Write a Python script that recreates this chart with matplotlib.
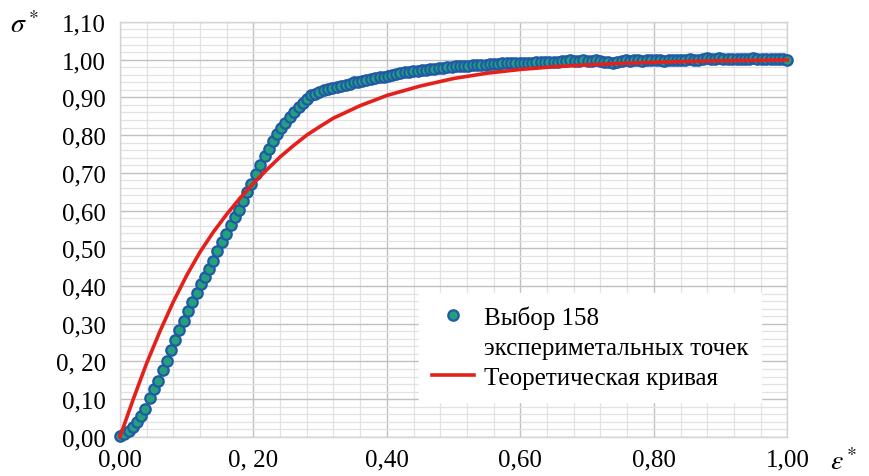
import numpy as np
import matplotlib.pyplot as plt
from matplotlib.lines import Line2D
from matplotlib.ticker import MultipleLocator

eps_exp = [
    0.000, 0.006, 0.013, 0.019, 0.025, 0.032, 0.038, 0.045, 0.051, 0.057,
    0.064, 0.070, 0.076, 0.083, 0.089, 0.096, 0.102, 0.108, 0.115, 0.121,
    0.127, 0.134, 0.140, 0.146, 0.153, 0.159, 0.166, 0.172, 0.178, 0.185,
    0.191, 0.197, 0.204, 0.210, 0.217, 0.223, 0.229, 0.236, 0.242, 0.248,
    0.255, 0.261, 0.268, 0.274, 0.280, 0.287, 0.293, 0.299, 0.306, 0.312,
    0.318, 0.325, 0.331, 0.338, 0.344, 0.350, 0.357, 0.363, 0.369, 0.376,
    0.382, 0.389, 0.395, 0.401, 0.408, 0.414, 0.420, 0.427, 0.433, 0.439,
    0.446, 0.452, 0.459, 0.465, 0.471, 0.478, 0.484, 0.490, 0.497, 0.503,
    0.510, 0.516, 0.522, 0.529, 0.535, 0.541, 0.548, 0.554, 0.561, 0.567,
    0.573, 0.580, 0.586, 0.592, 0.599, 0.605, 0.611, 0.618, 0.624, 0.631,
    0.637, 0.643, 0.650, 0.656, 0.662, 0.669, 0.675, 0.682, 0.688, 0.694,
    0.701, 0.707, 0.713, 0.720, 0.726, 0.732, 0.739, 0.745, 0.752, 0.758,
    0.764, 0.771, 0.777, 0.783, 0.790, 0.796, 0.803, 0.809, 0.815, 0.822,
    0.828, 0.834, 0.841, 0.847, 0.854, 0.860, 0.866, 0.873, 0.879, 0.885,
    0.892, 0.898, 0.904, 0.911, 0.917, 0.924, 0.930, 0.936, 0.943, 0.949,
    0.955, 0.962, 0.968, 0.975, 0.981, 0.987, 0.994, 1.000,
]
sig_exp = [
    0.003, 0.008, 0.016, 0.025, 0.039, 0.055, 0.073, 0.102, 0.128, 0.149,
    0.178, 0.202, 0.229, 0.258, 0.283, 0.308, 0.335, 0.358, 0.382, 0.405,
    0.424, 0.445, 0.467, 0.493, 0.517, 0.537, 0.562, 0.584, 0.602, 0.626,
    0.648, 0.671, 0.697, 0.720, 0.745, 0.764, 0.783, 0.803, 0.819, 0.832,
    0.848, 0.862, 0.875, 0.885, 0.896, 0.905, 0.910, 0.915, 0.920, 0.923,
    0.926, 0.928, 0.930, 0.932, 0.936, 0.940, 0.942, 0.943, 0.945, 0.948,
    0.950, 0.953, 0.955, 0.957, 0.960, 0.962, 0.964, 0.966, 0.967, 0.969,
    0.970, 0.972, 0.973, 0.975, 0.976, 0.978, 0.978, 0.980, 0.980, 0.982,
    0.983, 0.984, 0.984, 0.985, 0.986, 0.986, 0.987, 0.988, 0.988, 0.989,
    0.990, 0.990, 0.990, 0.991, 0.991, 0.992, 0.992, 0.992, 0.993, 0.993,
    0.994, 0.994, 0.995, 0.995, 0.996, 0.997, 0.998, 0.997, 0.996, 0.998,
    0.997, 0.996, 0.998, 0.997, 0.995, 0.993, 0.990, 0.994, 0.997, 0.998,
    0.997, 0.999, 0.998, 0.997, 0.999, 1.000, 0.998, 0.999, 0.997, 0.999,
    1.000, 0.999, 0.998, 1.000, 1.001, 0.999, 1.000, 1.002, 1.003, 1.002,
    1.001, 1.003, 1.002, 1.001, 1.002, 1.001, 1.002, 1.001, 1.002, 1.003,
    1.002, 1.001, 1.002, 1.002, 1.001, 1.002, 1.001, 1.000,
]

# theoretical curve
eps_th = [0.00, 0.02, 0.04, 0.06, 0.08, 0.10, 0.12, 0.14, 0.16, 0.18, 0.20,
          0.22, 0.24, 0.26, 0.28, 0.30, 0.32, 0.36, 0.40, 0.45, 0.50, 0.55,
          0.60, 0.65, 0.70, 0.75, 0.80, 0.85, 0.90, 0.95, 1.00]
sig_th = [0.000, 0.100, 0.195, 0.280, 0.358, 0.428, 0.490, 0.543, 0.590, 0.633, 0.672,
          0.708, 0.742, 0.772, 0.800, 0.823, 0.845, 0.878, 0.905, 0.930, 0.950, 0.964,
          0.974, 0.981, 0.986, 0.990, 0.993, 0.995, 0.997, 0.998, 0.999]

x_ticks = [0.0, 0.2, 0.4, 0.6, 0.8, 1.0]
x_labels = ['0,00', '0, 20', '0,40', '0,60', '0,80', '1,00']
y_ticks = [0.0, 0.1, 0.2, 0.3, 0.4, 0.5, 0.6, 0.7, 0.8, 0.9, 1.0, 1.1]
y_labels = ['0,00', '0,10', '0, 20', '0,30', '0,40', '0,50', '0,60', '0,70',
            '0,80', '0,90', '1,00', '1,10']

plt.rcParams['font.family'] = ['Liberation Serif', 'DejaVu Serif']
plt.rcParams['mathtext.fontset'] = 'stix'

fig = plt.figure(figsize=(8.69, 4.77), dpi=100)
ax = fig.add_axes([0.138, 0.082, 0.768, 0.870])

ax.plot(eps_exp, sig_exp, 'o', ms=7.5, mfc='#24a07c', mec='#1f5aa6', mew=1.6,
        zorder=3, clip_on=False)
ax.plot(eps_th, sig_th, '-', color='#e3201c', lw=2.6, zorder=4, clip_on=False)

ax.set_xlim(0, 1.0)
ax.set_ylim(0, 1.1)
ax.set_xticks(x_ticks)
ax.set_xticklabels(x_labels)
ax.set_yticks(y_ticks)
ax.set_yticklabels(y_labels)
ax.xaxis.set_minor_locator(MultipleLocator(0.04))
ax.yaxis.set_minor_locator(MultipleLocator(0.02))
ax.grid(which='major', color='#c0c0c0', lw=1.0, zorder=0)
ax.grid(which='minor', color='#e2e2e2', lw=0.9, zorder=0)
ax.set_axisbelow(True)
ax.tick_params(which='both', length=0, labelsize=18)
ax.tick_params(axis='x', pad=8)
ax.tick_params(axis='y', pad=10)
for s in ax.spines.values():
    s.set_color('#d4d4d4')
    s.set_linewidth(1.0)

fig.text(0.012, 0.93, r'$\sigma^*$', fontsize=20)
fig.text(0.955, 0.015, r'$\varepsilon^*$', fontsize=20)

handles = [
    Line2D([], [], ls='none', marker='o', ms=7.5, mfc='#24a07c', mec='#1f5aa6', mew=1.6),
    Line2D([], [], ls='none'),
    Line2D([], [], color='#e3201c', lw=2.6),
]
labels = ['Выбор 158', 'экспериметальных точек', 'Теоретическая кривая']
leg = ax.legend(handles, labels, loc='lower left', bbox_to_anchor=(0.43, 0.055),
                fontsize=18, frameon=True, fancybox=False, framealpha=1,
                edgecolor='white', facecolor='white', labelspacing=0.3,
                handlelength=1.7, handletextpad=0.4, borderpad=0.5)
leg.set_zorder(5)

fig.savefig('out.png', dpi=100)
